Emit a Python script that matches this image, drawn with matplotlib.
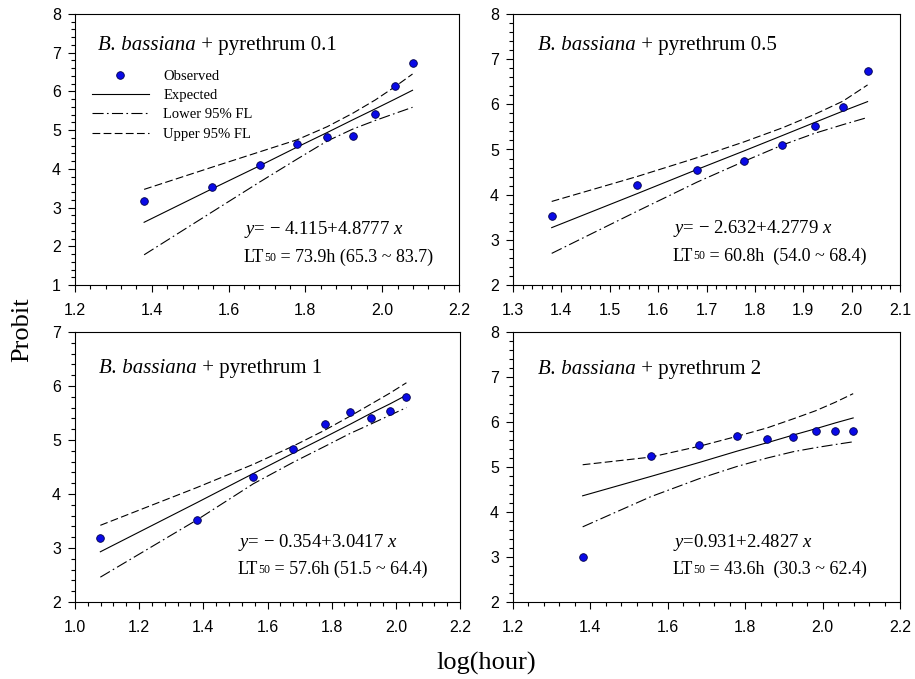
import matplotlib
matplotlib.use("Agg")
import matplotlib.pyplot as plt
from matplotlib.lines import Line2D
from matplotlib.ticker import MultipleLocator, FormatStrFormatter

plt.rcParams['mathtext.fontset'] = 'custom'
plt.rcParams['mathtext.rm'] = 'Liberation Serif'
plt.rcParams['mathtext.it'] = 'Liberation Serif:italic'
plt.rcParams['mathtext.bf'] = 'Liberation Serif:bold'

# ---------------- data ----------------
species = 'B. bassiana'
treatments = [' + pyrethrum 0.1', ' + pyrethrum 0.5', ' + pyrethrum 1', ' + pyrethrum 2']
equations = [r'$\mathit{y}$= − 4.115+4.8777 $\mathit{x}$',
             r'$\mathit{y}$= − 2.632+4.2779 $\mathit{x}$',
             r'$\mathit{y}$= − 0.354+3.0417 $\mathit{x}$',
             r'$\mathit{y}$=0.931+2.4827 $\mathit{x}$']
lt50_rest = [' = 73.9h (65.3 ~ 83.7)',
             ' = 60.8h  (54.0 ~ 68.4)',
             ' = 57.6h (51.5 ~ 64.4)',
             ' = 43.6h  (30.3 ~ 62.4)']

x1 = [1.380, 1.556, 1.681, 1.778, 1.857, 1.924, 1.982, 2.033, 2.079]
obs1 = [3.18, 3.54, 4.10, 4.65, 4.82, 4.86, 5.42, 6.14, 6.73]
exp1 = [2.62, 3.48, 4.08, 4.56, 4.94, 5.27, 5.55, 5.80, 6.03]
up1 = [3.47, 4.04, 4.44, 4.75, 5.09, 5.44, 5.78, 6.12, 6.45]
lo1 = [1.78, 2.88, 3.66, 4.25, 4.72, 5.03, 5.25, 5.43, 5.59]

x2 = [1.380, 1.556, 1.681, 1.778, 1.857, 1.924, 1.982, 2.033]
obs2 = [3.52, 4.21, 4.55, 4.75, 5.11, 5.53, 5.95, 6.73]
exp2 = [3.27, 4.02, 4.56, 4.97, 5.31, 5.60, 5.85, 6.06]
up2 = [3.85, 4.40, 4.82, 5.17, 5.48, 5.78, 6.07, 6.43]
lo2 = [2.70, 3.63, 4.28, 4.74, 5.10, 5.36, 5.55, 5.71]

x3 = [1.079, 1.380, 1.556, 1.681, 1.778, 1.857, 1.924, 1.982, 2.033]
obs3 = [3.18, 3.51, 4.31, 4.83, 5.29, 5.52, 5.41, 5.53, 5.80]
exp3 = [2.93, 3.84, 4.38, 4.76, 5.05, 5.29, 5.50, 5.67, 5.83]
up3 = [3.42, 4.12, 4.55, 4.89, 5.18, 5.44, 5.67, 5.87, 6.06]
lo3 = [2.46, 3.52, 4.19, 4.59, 4.88, 5.12, 5.30, 5.46, 5.60]

x4 = [1.380, 1.556, 1.681, 1.778, 1.857, 1.924, 1.982, 2.033, 2.079]
obs4 = [3.01, 5.24, 5.48, 5.69, 5.63, 5.66, 5.80, 5.80, 5.80]
exp4 = [4.36, 4.79, 5.10, 5.35, 5.54, 5.71, 5.85, 5.98, 6.09]
up4 = [5.05, 5.22, 5.46, 5.68, 5.87, 6.07, 6.25, 6.44, 6.63]
lo4 = [3.67, 4.34, 4.74, 5.01, 5.20, 5.34, 5.43, 5.50, 5.56]

xlims = [(1.2, 2.2), (1.3, 2.1), (1.0, 2.2), (1.2, 2.2)]
xmajor = [0.2, 0.1, 0.2, 0.2]
ylims = [(1, 8), (2, 8), (2, 7), (2, 8)]

series = [(x1, obs1, exp1, up1, lo1), (x2, obs2, exp2, up2, lo2),
          (x3, obs3, exp3, up3, lo3), (x4, obs4, exp4, up4, lo4)]

# ---------------- figure ----------------
W, H = 915, 679
fig = plt.figure(figsize=(W / 100, H / 100), dpi=100)

boxes = [(75, 14, 459, 285), (513, 14, 900, 285),
         (75, 332, 460, 602), (513, 332, 900, 602)]

serif = 'Liberation Serif'
sans = 'Liberation Sans'
mk_face = '#0a0ae6'
mk_edge = '#00004a'
dash = (0, (7, 3))
dashdot = (0, (10, 3, 1.5, 3))

title_pos = [(0.06, 0.867), (0.065, 0.867), (0.062, 0.848), (0.065, 0.845)]
eq_pos = [(0.44, 0.203, 0.10), (0.413, 0.21, 0.107), (0.423, 0.222, 0.119), (0.413, 0.222, 0.119)]

for i, (l, t, r, b) in enumerate(boxes):
    ax = fig.add_axes([l / W, (H - b) / H, (r - l) / W, (b - t) / H])
    xs, obs, ex, up, lo = series[i]
    ax.plot(xs, ex, color='black', lw=0.8, ls='-')
    ax.plot(xs, lo, color='black', lw=0.8, ls=dashdot)
    ax.plot(xs, up, color='black', lw=0.8, ls=dash)
    ax.plot(xs, obs, ls='none', marker='o', ms=5.5, mfc=mk_face, mec=mk_edge, mew=0.6, zorder=5)

    ax.set_xlim(*xlims[i])
    ax.set_ylim(*ylims[i])
    ax.xaxis.set_major_locator(MultipleLocator(xmajor[i]))
    ax.xaxis.set_minor_locator(MultipleLocator(xmajor[i] / 5))
    ax.yaxis.set_major_locator(MultipleLocator(1))
    ax.yaxis.set_minor_locator(MultipleLocator(0.2))
    ax.xaxis.set_major_formatter(FormatStrFormatter('%.1f'))
    ax.yaxis.set_major_formatter(FormatStrFormatter('%d'))
    ax.tick_params(which='both', direction='out', top=False, right=False, width=0.8, color='black')
    ax.tick_params(which='major', length=5)
    ax.tick_params(which='minor', length=3)
    ax.tick_params(axis='x', which='major', pad=8, labelsize=11.5)
    ax.tick_params(axis='y', which='major', pad=5, labelsize=11.5)
    for lab in ax.get_xticklabels() + ax.get_yticklabels():
        lab.set_fontfamily(sans)
    for sp in ax.spines.values():
        sp.set_linewidth(0.8)

    tx, ty = title_pos[i]
    s1 = ax.text(tx, ty, species, transform=ax.transAxes, fontsize=15,
                 family=serif, style='italic', va='baseline', ha='left')
    ax.annotate(treatments[i], xy=(1, 0), xycoords=s1, xytext=(0, 0), textcoords='offset points',
                fontsize=15, family=serif, va='bottom', ha='left')
    ex_, ey1, ey2 = eq_pos[i]
    ax.text(ex_, ey1, equations[i], transform=ax.transAxes, fontsize=13.5,
            family=serif, va='center', ha='left')
    t1 = ax.text(ex_, ey2, 'LT', transform=ax.transAxes, fontsize=13,
                 family=serif, va='center', ha='left')
    t2 = ax.annotate('50', xy=(1, 0), xycoords=t1, xytext=(0, 1.5), textcoords='offset points',
                     fontsize=8.5, family=serif, va='bottom', ha='left')
    ax.annotate(lt50_rest[i], xy=(1, 0), xycoords=t2, xytext=(0, -1.5), textcoords='offset points',
                fontsize=13, family=serif, va='bottom', ha='left')

    if i == 0:
        handles = [
            Line2D([], [], ls='none', marker='o', ms=5.5, mfc=mk_face, mec=mk_edge, mew=0.6),
            Line2D([], [], color='black', lw=0.8, ls='-'),
            Line2D([], [], color='black', lw=0.8, ls=dashdot),
            Line2D([], [], color='black', lw=0.8, ls=dash),
        ]
        labels = ['Observed', 'Expected', 'Lower 95% FL', 'Upper 95% FL']
        ax.legend(handles, labels, loc='upper left', bbox_to_anchor=(0.044, 0.795),
                  frameon=False, borderpad=0, borderaxespad=0, numpoints=1,
                  handlelength=3.9, handletextpad=1.0, labelspacing=0.42,
                  prop={'family': serif, 'size': 10.5})

fig.text(22 / W, 1 - 330 / H, 'Probit', rotation=90, family=serif, fontsize=19,
         va='center', ha='center')
fig.text(486 / W, 1 - 663 / H, 'log(hour)', family=serif, fontsize=19,
         va='center', ha='center')

fig.savefig('out.png', dpi=100)
